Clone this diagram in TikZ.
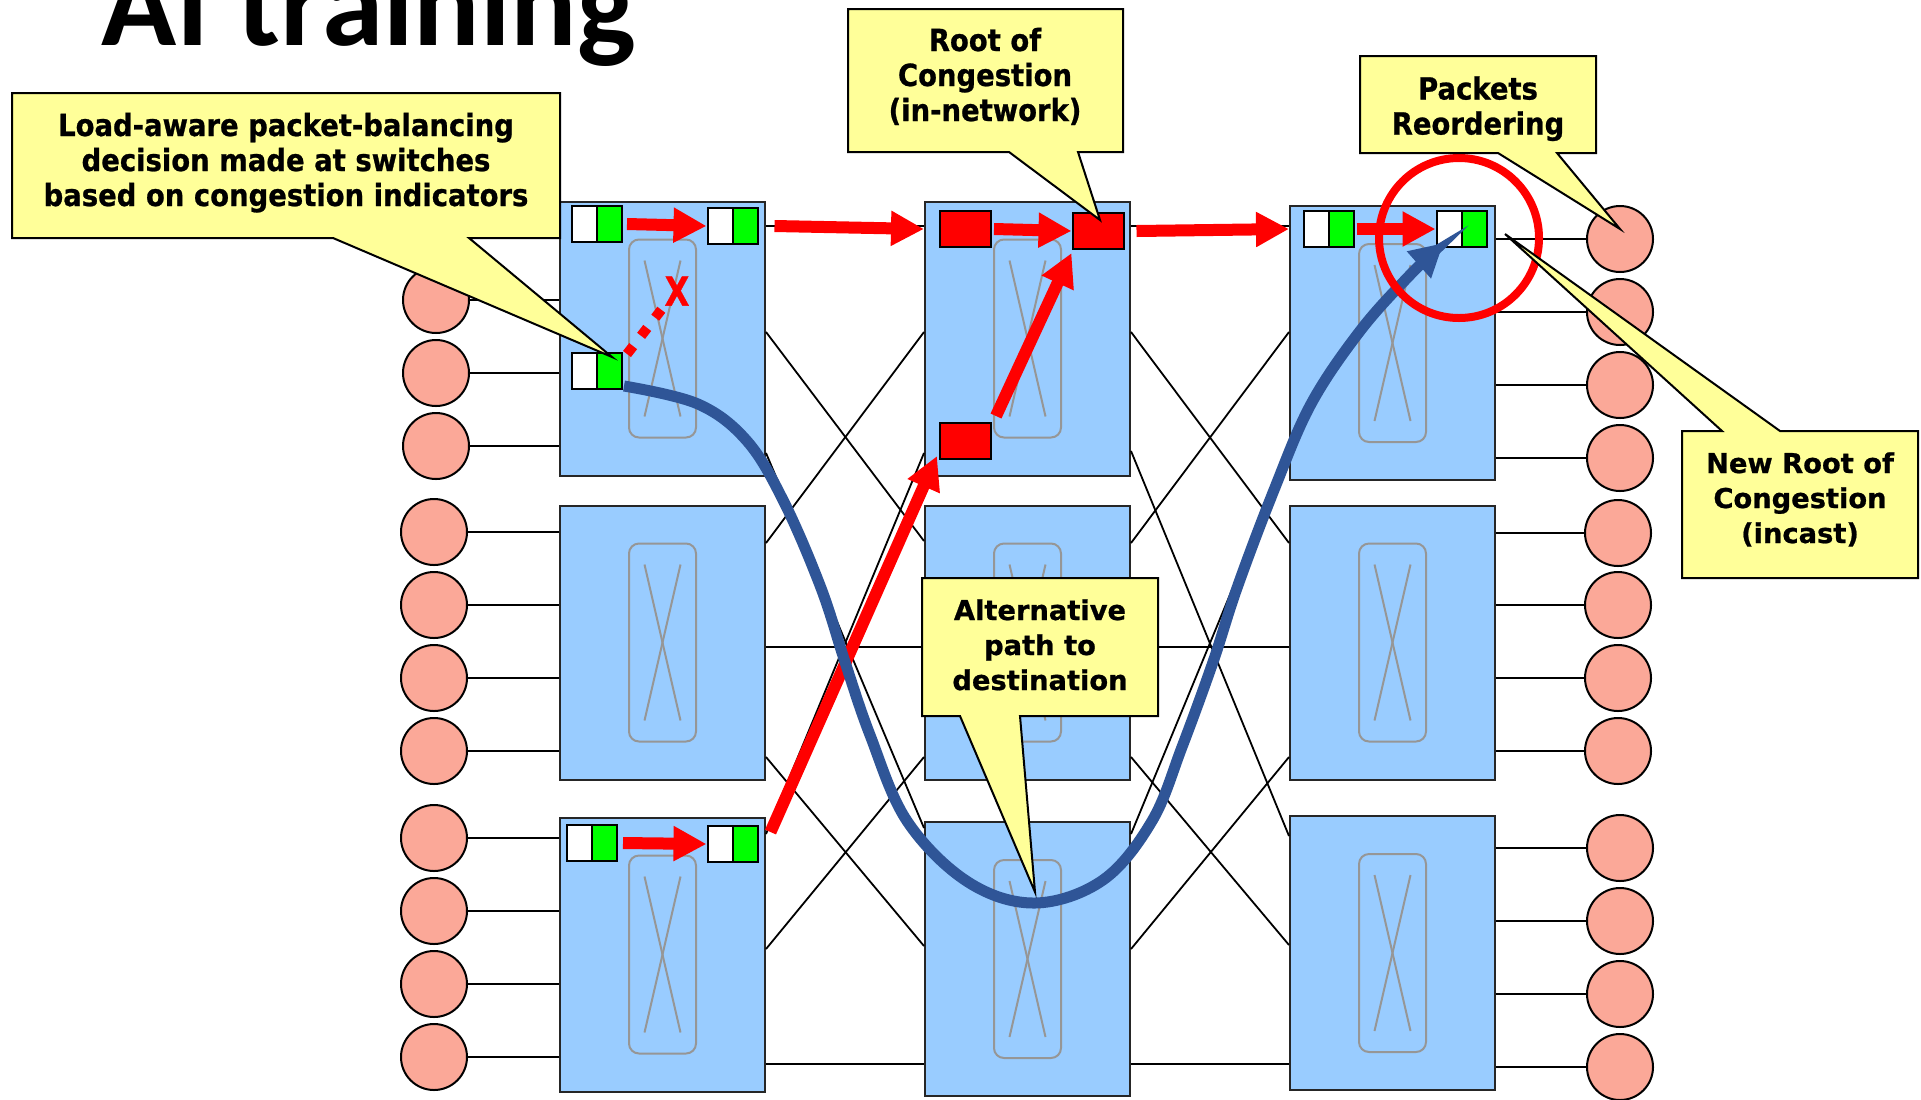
\documentclass[tikz,border=0pt]{standalone}
\usepackage{fontspec}
\usepackage{graphicx}
\usetikzlibrary{arrows.meta,calc}
\newfontfamily\djv{DejaVu Sans}[BoldFeatures={FakeBold=0.8}]
\newfontfamily\carl{Carlito}
\definecolor{swblue}{RGB}{153,204,255}
\definecolor{salmon}{RGB}{251,168,152}
\definecolor{callfill}{RGB}{255,255,153}
\definecolor{pgreen}{RGB}{0,255,0}
\definecolor{pred}{RGB}{255,0,0}
\definecolor{pathblue}{RGB}{47,85,151}
\definecolor{xgray}{RGB}{150,150,150}
\newcommand{\condtext}[1]{\scalebox{0.9}[1]{\fontsize{15.25}{17.5}\selectfont\djv\bfseries\begin{tabular}{@{}c@{}}#1\end{tabular}}}
\newcommand{\widetext}[1]{{\fontsize{13.65}{17.5}\selectfont\djv\bfseries\begin{tabular}{@{}c@{}}#1\end{tabular}}}
\tikzset{
  switchbox/.style={draw=black!85, line width=1pt, fill=swblue, minimum width=102.5pt, minimum height=137pt, inner sep=0pt},
  host/.style={circle, draw=black, line width=1pt, fill=salmon, minimum size=33pt, inner sep=0pt},
  link/.style={draw=black, line width=0.9pt},
  pkt/.style={draw=black, line width=1pt, fill=white, minimum width=25pt, minimum height=18pt, inner sep=0pt,
    path picture={\fill[pgreen] (path picture bounding box.north) rectangle (path picture bounding box.south east);
      \draw[black, line width=1pt] (path picture bounding box.north) -- (path picture bounding box.south);}},
  rpkt/.style={draw=black, line width=1pt, fill=pred, minimum width=25.5pt, minimum height=18pt, inner sep=0pt},
  redarrow/.style={draw=pred, line width=6pt, -{Triangle[length=16.5pt, width=16.5pt]}},
  bluepath/.style={draw=pathblue, line width=5.5pt, -{Triangle[length=16.5pt, width=17pt]}},
  callout/.style={draw=black, line width=1pt, fill=callfill},
  xbar/.style={draw=xgray, line width=1pt},
  reddots/.style={draw=pred, line width=5pt, dash pattern=on 5pt off 6.5pt}
}
\begin{document}
\begin{tikzpicture}[x=0.5pt, y=-0.5pt]
\fill[white] (0,0) rectangle (1921,1099);
\path[use as bounding box] (0,0) rectangle (1921,1099);

% switches
\node[switchbox] (s11) at (662.5,338.5) {};
\node[switchbox] (s12) at (662.5,642.5) {};
\node[switchbox] (s13) at (662.5,954.5) {};
\node[switchbox] (s21) at (1027.5,338.5) {};
\node[switchbox] (s22) at (1027.5,642.5) {};
\node[switchbox] (s23) at (1027.5,959) {};
\node[switchbox] (s31) at (1392.5,343) {};
\node[switchbox] (s32) at (1392.5,642.5) {};
\node[switchbox] (s33) at (1392.5,953) {};

\foreach \s in {s11,s12,s13,s21,s22,s23,s31,s32,s33} {
  \draw[xbar, rounded corners=5pt] ([shift={(-33.5,-99)}]\s.center) rectangle ([shift={(33.5,99)}]\s.center);
  \draw[xbar] ([shift={(-18,-78)}]\s.center) -- ([shift={(18,78)}]\s.center);
  \draw[xbar] ([shift={(18,-78)}]\s.center) -- ([shift={(-18,78)}]\s.center);
}

% inter-switch links col1-col2
\draw[link] (s11.east |- 0,226) -- (s21.west |- 0,226);
\draw[link] (s11.east |- 0,332) -- (s22.west |- 0,541);
\draw[link] (s21.west |- 0,332) -- (s12.east |- 0,543);
\draw[link] (s11.east |- 0,453) -- (s23.west |- 0,828);
\draw[link] (s21.west |- 0,453) -- (s13.east |- 0,834);
\draw[link] (s12.east |- 0,647) -- (s22.west |- 0,647);
\draw[link] (s12.east |- 0,757) -- (s23.west |- 0,946);
\draw[link] (s22.west |- 0,757) -- (s13.east |- 0,949);
\draw[link] (s13.east |- 0,1064) -- (s23.west |- 0,1064);
% col2-col3
\draw[link] (s21.east |- 0,226) -- (s31.west |- 0,226);
\draw[link] (s21.east |- 0,332) -- (s32.west |- 0,543);
\draw[link] (s31.west |- 0,332) -- (s22.east |- 0,543);
\draw[link] (s21.east |- 0,451) -- (s33.west |- 0,836);
\draw[link] (s31.west |- 0,452) -- (s23.east |- 0,834);
\draw[link] (s22.east |- 0,647) -- (s32.west |- 0,647);
\draw[link] (s22.east |- 0,757) -- (s33.west |- 0,945);
\draw[link] (s32.west |- 0,757) -- (s23.east |- 0,949);
\draw[link] (s23.east |- 0,1064) -- (s33.west |- 0,1064);

% hosts left
\foreach \i/\x/\y/\s in {1/436/227/s11,2/436/300/s11,3/436/373/s11,4/436/446/s11,
  5/434/532/s12,6/434/605/s12,7/434/678/s12,8/434/751/s12,
  9/434/838/s13,10/434/911/s13,11/434/984/s13,12/434/1057/s13} {
  \node[host] (hA\i) at (\x,\y) {};
  \draw[link] (hA\i.east) -- (\s.west |- hA\i.east);
}
% hosts right
\foreach \i/\x/\y/\s in {1/1620/239/s31,2/1620/312/s31,3/1620/385/s31,4/1620/458/s31,
  5/1618/533/s32,6/1618/605/s32,7/1618/678/s32,8/1618/751/s32,
  9/1620/848/s33,10/1620/921/s33,11/1620/994/s33,12/1620/1067/s33} {
  \node[host] (hB\i) at (\x,\y) {};
  \draw[link] (\s.east |- hB\i.west) -- (hB\i.west);
}

% packets
\node[pkt] (p11a) at (597,224) {};
\node[pkt] (p11b) at (732.5,226) {};
\node[pkt] (p11c) at (597,371) {};
\node[pkt] (p13a) at (592,843) {};
\node[pkt] (p13b) at (732.5,844) {};
\node[rpkt] (p21a) at (965.5,229) {};
\node[rpkt] (p21b) at (1098,231) {};
\node[rpkt] (p22c) at (965.5,441) {};
\node[pkt] (p31a) at (1328.5,229) {};
\node[pkt] (p31b) at (1461.5,229) {};

% red arrows
\draw[redarrow] ([xshift=2pt]p11a.east) -- (p11b.west);
\draw[redarrow] ([xshift=8pt]p11b.east) -- (s21.west |- p21a.west);
\draw[redarrow] ([xshift=1pt]p21a.east) -- (p21b.west);
\draw[redarrow] ([xshift=6pt]p21b.east) -- (s31.west |- p31a.west);
\draw[redarrow] ([xshift=1pt]p31a.east) -- (p31b.west);
\draw[redarrow] ([xshift=2.5pt]p13a.east) -- (p13b.west);
\draw[redarrow] ([shift={(12,-12)}]p13b.east) -- ([shift={(-2,-4)}]p22c.south west);
\draw[redarrow] ([shift={(4,-6)}]p22c.north east) -- ([shift={(0,3)}]p21b.south west);

% blocked choice
\node[text=pred, inner sep=0pt, font=\fontsize{20}{20}\selectfont\djv\bfseries] (xlbl) at (677,291) {\scalebox{0.8}[1]{X}};
\draw[reddots] ([shift={(4,2)}]p11c.north east) -- (xlbl.south west);

% alternative path
\draw[bluepath] plot[smooth, tension=0.6] coordinates {([shift={(1,-4)}]p11c.south east) (698,404) (747,441) (784,502) (821,588) (845,662) (870,735) (907,821) (968,882) (1035,903) (1103,880) (1152,821) (1182,747) (1213,662) (1237,588) (1274,490) (1311,404) (1360,331) (1409,276) ([shift={(8,-5)}]p31b.south west)};

% reordering circle
\node[circle, draw=pred, line width=4pt, minimum size=80pt, inner sep=0pt] (reorder) at (1459,238) {};

% callouts
\draw[callout] (12,93) -- (560,93) -- (560,238) -- (469,238) -- (612,357) -- (333,238) -- (12,238) -- cycle;
\draw[callout] (848,9) -- (1123,9) -- (1123,152) -- (1078,152) -- (1100,220) -- (1009,152) -- (848,152) -- cycle;
\draw[callout] (1360,56) -- (1596,56) -- (1596,153) -- (1557,153) -- (1620,229) -- (1498,153) -- (1360,153) -- cycle;
\draw[callout] (1682,431) -- (1722,431) -- (1505,234) -- (1780,431) -- (1918,431) -- (1918,578) -- (1682,578) -- cycle;
\draw[callout] (922,578) -- (1158,578) -- (1158,716) -- (1020,716) -- (1035,892) -- (960,716) -- (922,716) -- cycle;

\node (t1) at (286,164) {\condtext{Load-aware packet-balancing\\decision made at switches\\based on congestion indicators}};
\node (t2) at (985,79) {\condtext{Root of\\Congestion\\(in-network)}};
\node (t3) at (1478,110) {\condtext{Packets\\Reordering}};
\node (t4) at (1800,501) {\widetext{New Root of\\Congestion\\(incast)}};
\node (t5) at (1040,648) {\widetext{Alternative\\path to\\destination}};

% title
\node[anchor=base west, inner sep=0pt, font=\fontsize{62}{62}\selectfont\carl\bfseries] (title) at (101,45) {AI training};
\end{tikzpicture}
\end{document}
